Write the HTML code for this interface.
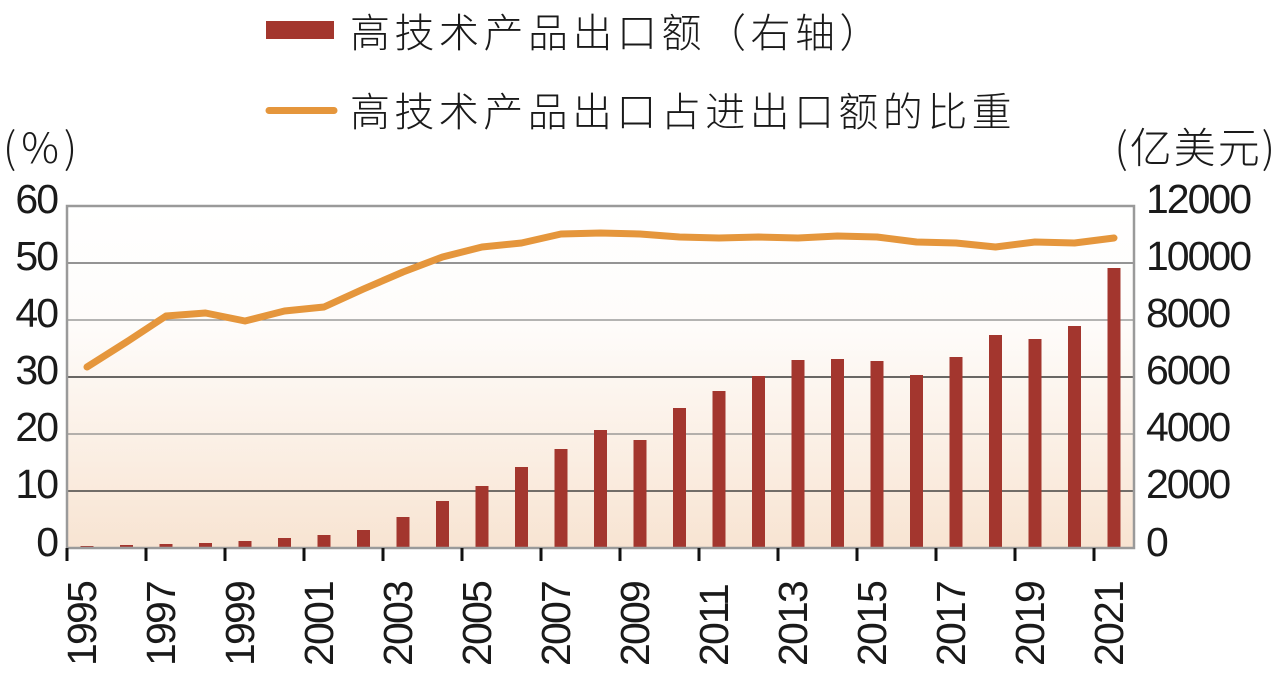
<!DOCTYPE html>
<html><head><meta charset="utf-8"><style>
html,body{margin:0;padding:0;background:#fff;}
svg{display:block;}
text{font-family:"Liberation Sans","Noto Sans CJK SC",sans-serif;fill:#1a1a1a;}
</style></head><body>
<svg width="1280" height="683" viewBox="0 0 1280 683" xmlns="http://www.w3.org/2000/svg">
<defs>
<linearGradient id="bg" x1="0" y1="0" x2="0" y2="1">
<stop offset="0" stop-color="#ffffff"/>
<stop offset="0.35" stop-color="#fefcfa"/>
<stop offset="1" stop-color="#f8e4d2"/>
</linearGradient>
</defs>
<!-- legend -->
<rect x="266" y="21" width="68" height="18" fill="#a3362e"/>
<text x="350" y="47" font-size="40" letter-spacing="4.5" style="font-family:'Noto Sans CJK SC',sans-serif;font-weight:300">高技术产品出口额（右轴）</text>
<line x1="269" y1="110.5" x2="334" y2="110.5" stroke="#e5963c" stroke-width="7" stroke-linecap="round"/>
<text x="350" y="126" font-size="40" letter-spacing="4.4" style="font-family:'Noto Sans CJK SC',sans-serif;font-weight:300">高技术产品出口占进出口额的比重</text>
<text x="3" y="163" font-size="42" letter-spacing="5" style="font-family:'Noto Sans CJK SC',sans-serif;font-weight:300">(%)</text>
<text x="1277" y="163" font-size="42" letter-spacing="2" text-anchor="end" style="font-family:'Noto Sans CJK SC',sans-serif;font-weight:300">(亿美元)</text>
<!-- plot -->
<rect x="67" y="206" width="1067" height="342" fill="url(#bg)"/>
<g stroke-width="1.2">
<line x1="67" x2="1134" y1="263" y2="263" stroke="#555"/>
<line x1="67" x2="1134" y1="320" y2="320" stroke="#888"/>
<line x1="67" x2="1134" y1="377" y2="377" stroke="#111"/>
<line x1="67" x2="1134" y1="434" y2="434" stroke="#888"/>
<line x1="67" x2="1134" y1="491" y2="491" stroke="#222"/>
</g>
<g fill="#a3362e">
<rect x="80.5" y="546" width="13" height="2"/>
<rect x="120" y="545" width="13" height="3"/>
<rect x="159.5" y="544" width="13" height="4"/>
<rect x="199" y="543" width="13" height="5"/>
<rect x="238.5" y="541" width="13" height="7"/>
<rect x="278" y="538" width="13" height="10"/>
<rect x="317.5" y="535" width="13" height="13"/>
<rect x="357" y="530" width="13" height="18"/>
<rect x="396.5" y="517" width="13" height="31"/>
<rect x="436" y="501" width="13" height="47"/>
<rect x="475.5" y="486" width="13" height="62"/>
<rect x="515" y="467" width="13" height="81"/>
<rect x="554.5" y="449" width="13" height="99"/>
<rect x="594" y="430" width="13" height="118"/>
<rect x="633.5" y="440" width="13" height="108"/>
<rect x="673" y="408" width="13" height="140"/>
<rect x="712.5" y="391" width="13" height="157"/>
<rect x="752" y="376" width="13" height="172"/>
<rect x="791.5" y="360" width="13" height="188"/>
<rect x="831" y="359" width="13" height="189"/>
<rect x="870.5" y="361" width="13" height="187"/>
<rect x="910" y="375" width="13" height="173"/>
<rect x="949.5" y="357" width="13" height="191"/>
<rect x="989" y="335" width="13" height="213"/>
<rect x="1028.5" y="339" width="13" height="209"/>
<rect x="1068" y="326" width="13" height="222"/>
<rect x="1107.5" y="268" width="13" height="280"/>
</g>
<polyline fill="none" stroke="#e5963c" stroke-width="7" stroke-linecap="round" stroke-linejoin="round"
points="87,367 126.5,342 166,316 205.5,313 245,321 284.5,311 324,307 363.5,289 403,272 442.5,257 482,247 521.5,243 561,234 600.5,233 640,234 679.5,237 719,238 758.5,237 798,238 837.5,236 877,237 916.5,242 956,243 995.5,247 1035,242 1074.5,243 1114,238"/>
<rect x="67" y="206" width="1067" height="342" fill="none" stroke="#9a9a9a" stroke-width="2.5"/>
<!-- x ticks -->
<g stroke="#111" stroke-width="3">
<line x1="67" x2="67" y1="548" y2="561"/><line x1="146" x2="146" y1="548" y2="561"/><line x1="225" x2="225" y1="548" y2="561"/><line x1="304" x2="304" y1="548" y2="561"/><line x1="383" x2="383" y1="548" y2="561"/><line x1="462" x2="462" y1="548" y2="561"/><line x1="541" x2="541" y1="548" y2="561"/><line x1="620" x2="620" y1="548" y2="561"/><line x1="699" x2="699" y1="548" y2="561"/><line x1="778" x2="778" y1="548" y2="561"/><line x1="857" x2="857" y1="548" y2="561"/><line x1="936" x2="936" y1="548" y2="561"/><line x1="1015" x2="1015" y1="548" y2="561"/><line x1="1094" x2="1094" y1="548" y2="561"/>
</g>
<!-- y left labels -->
<g font-size="41" letter-spacing="-2" text-anchor="end">
<text x="57" y="213">60</text><text x="57" y="270">50</text><text x="57" y="327">40</text><text x="57" y="384">30</text><text x="57" y="441">20</text><text x="57" y="498">10</text><text x="57" y="556">0</text>
</g>
<g font-size="41" letter-spacing="-2" text-anchor="start">
<text x="1146" y="213">12000</text><text x="1146" y="270">10000</text><text x="1146" y="327">8000</text><text x="1146" y="384">6000</text><text x="1146" y="441">4000</text><text x="1146" y="498">2000</text><text x="1146" y="556">0</text>
</g>
<!-- x labels -->
<g font-size="41" letter-spacing="-1.8">
<text transform="translate(96,666) rotate(-90)">1995</text>
<text transform="translate(175,666) rotate(-90)">1997</text>
<text transform="translate(254,666) rotate(-90)">1999</text>
<text transform="translate(333,666) rotate(-90)">2001</text>
<text transform="translate(412,666) rotate(-90)">2003</text>
<text transform="translate(491,666) rotate(-90)">2005</text>
<text transform="translate(570,666) rotate(-90)">2007</text>
<text transform="translate(649,666) rotate(-90)">2009</text>
<text transform="translate(728,666) rotate(-90)">2011</text>
<text transform="translate(807,666) rotate(-90)">2013</text>
<text transform="translate(886,666) rotate(-90)">2015</text>
<text transform="translate(965,666) rotate(-90)">2017</text>
<text transform="translate(1044,666) rotate(-90)">2019</text>
<text transform="translate(1123,666) rotate(-90)">2021</text>
</g>
</svg>
</body></html>
